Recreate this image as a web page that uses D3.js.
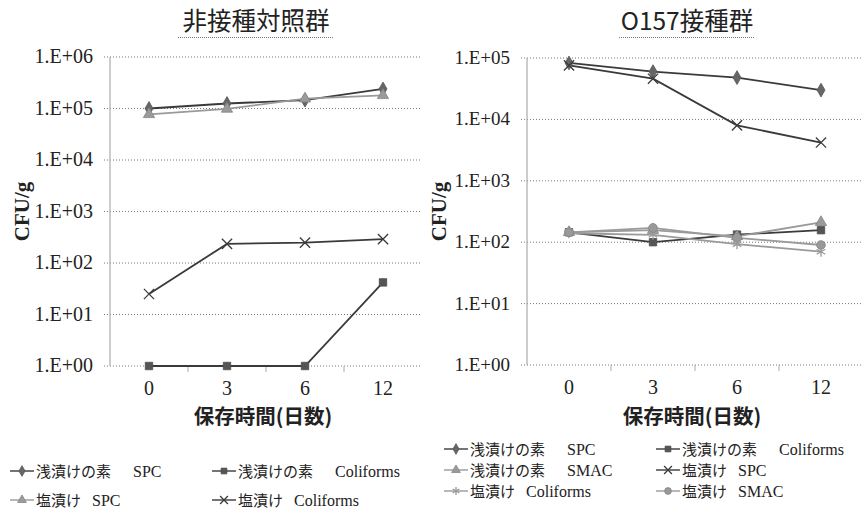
<!DOCTYPE html>
<html><head><meta charset="utf-8">
<script src="https://cdn.jsdelivr.net/npm/d3@7"></script>
<style>body{margin:0;background:#fff}</style>
</head><body><div id="chart"></div>
<script>
// ---- data ----
const days = ["0", "3", "6", "12"];
const leftTicks = [1, 1e1, 1e2, 1e3, 1e4, 1e5, 1e6];
const rightTicks = [1, 1e1, 1e2, 1e3, 1e4, 1e5];
const tickLabels = ["1.E+00", "1.E+01", "1.E+02", "1.E+03", "1.E+04", "1.E+05", "1.E+06"];

const leftAsaSPC = [1.0e5, 1.25e5, 1.45e5, 2.4e5];
const leftAsaColi = [1, 1, 1, 42];
const leftShioSPC = [7.7e4, 9.8e4, 1.55e5, 1.8e5];
const leftShioColi = [25, 235, 248, 290];

const rightAsaSPC = [8.3e4, 6.0e4, 4.8e4, 3.0e4];
const rightAsaColi = [145, 100, 133, 157];
const rightAsaSMAC = [145, 157, 124, 211];
const rightShioSPC = [7.6e4, 4.6e4, 8.0e3, 4.2e3];
const rightShioColi = [140, 132, 93, 70];
const rightShioSMAC = [145, 171, 118, 90];

const JP = "'Noto Sans CJK JP', sans-serif";
const SERIF = "'Liberation Serif', 'DejaVu Serif', serif";
const DARK = "#3a3a3a", GRAY = "#9a9a9a";

const svg = d3.select("#chart").append("svg")
    .attr("width", 862).attr("height", 522);

// marker drawing
function marker(g, type, color, x, y, scale = 1) {
    const sym = {
        diamond: [d3.symbolDiamond, 55, true],
        square: [d3.symbolSquare, 55, true],
        triangle: [d3.symbolTriangle, 55, true],
        circle: [d3.symbolCircle, 60, true],
        times: [d3.symbolTimes, 70, false],
        asterisk: [d3.symbolAsterisk, 70, false]
    }[type];
    if (!sym) return;
    const p = g.append("path")
        .attr("d", d3.symbol().type(sym[0]).size(sym[1] * scale)())
        .attr("transform", `translate(${x},${y})`);
    if (sym[2]) p.attr("fill", color).attr("stroke", d3.color(color).darker(0.4)).attr("stroke-width", 0.8);
    else p.attr("fill", "none").attr("stroke", color).attr("stroke-width", 1.3);
}

function drawPanel(opt) {
    const g = svg.append("g");
    const x = d3.scalePoint().domain(days).range([opt.left, opt.right]).padding(0.5);
    const y = d3.scaleLog().domain([1, opt.ticks[opt.ticks.length - 1]]).range([opt.bottom, opt.top]);

    // title + dotted underline
    g.append("text").attr("x", opt.titleX).attr("y", 30)
        .attr("text-anchor", "middle").attr("font-family", JP).attr("font-size", 24.5)
        .attr("fill", "#222").text(opt.title);
    g.append("line").attr("x1", opt.titleX - opt.ulHalf).attr("x2", opt.titleX + opt.ulHalf)
        .attr("y1", 37.5).attr("y2", 37.5)
        .attr("stroke", "#777").attr("stroke-width", 1.2).attr("stroke-dasharray", "1,1");

    // gridlines
    g.selectAll(".grid").data(opt.ticks).join("line")
        .attr("x1", opt.left - 6).attr("x2", opt.right)
        .attr("y1", d => y(d)).attr("y2", d => y(d))
        .attr("stroke", "#777").attr("stroke-width", 1).attr("stroke-dasharray", "1,2");

    // y axis line
    g.append("line").attr("x1", opt.left).attr("x2", opt.left)
        .attr("y1", opt.top).attr("y2", opt.bottom)
        .attr("stroke", "#aaa").attr("stroke-width", 1.2);

    // y tick labels
    g.selectAll(".yl").data(opt.ticks).join("text")
        .attr("x", opt.left - 17).attr("y", d => y(d) + 6)
        .attr("text-anchor", "end").attr("font-family", SERIF).attr("font-size", opt.tickSize)
        .attr("fill", "#222")
        .text((d, i) => tickLabels[i]);

    // category tick marks
    const step = x.step();
    g.selectAll(".xt").data(d3.range(1, days.length)).join("line")
        .attr("x1", d => opt.left + d * step).attr("x2", d => opt.left + d * step)
        .attr("y1", opt.bottom).attr("y2", opt.bottom + 6)
        .attr("stroke", "#aaa");

    // x tick labels
    g.selectAll(".xl").data(days).join("text")
        .attr("x", d => x(d)).attr("y", opt.bottom + 29)
        .attr("text-anchor", "middle").attr("font-family", SERIF).attr("font-size", 20)
        .attr("fill", "#222").text(d => d);

    // axis titles
    g.append("text")
        .attr("transform", `translate(${opt.yTitleX},${(opt.top + opt.bottom) / 2}) rotate(-90)`)
        .attr("text-anchor", "middle").attr("font-family", SERIF).attr("font-weight", "bold")
        .attr("font-size", 21).attr("fill", "#222").text("CFU/g");
    g.append("text").attr("x", (opt.left + opt.right) / 2 - 3).attr("y", 424)
        .attr("text-anchor", "middle").attr("font-family", JP).attr("font-weight", "bold")
        .attr("font-size", 20.5).attr("fill", "#222").text("保存時間(日数)");

    // series
    const line = d3.line().x((d, i) => x(days[i])).y(d => y(d));
    opt.series.forEach(s => {
        g.append("path").attr("d", line(s.values))
            .attr("fill", "none").attr("stroke", s.color).attr("stroke-width", 1.8);
    });
    opt.series.forEach(s => {
        s.values.forEach((v, i) => marker(g, s.marker, s.markerColor || s.color, x(days[i]), y(v)));
    });

    // legend
    opt.series.forEach((s, i) => {
        const lx = opt.legendX[i % 2], ly = opt.legendY[Math.floor(i / 2)];
        const lg = g.append("g").attr("transform", `translate(${lx},${ly})`);
        lg.append("line").attr("x1", 0).attr("x2", 24).attr("y1", 0).attr("y2", 0)
            .attr("stroke", s.color).attr("stroke-width", 1.4);
        marker(lg, s.marker, s.markerColor || s.color, 12, 0, 0.6);
        const t = lg.append("text").attr("x", 26).attr("y", 5.5)
            .attr("font-family", JP).attr("font-size", 15).attr("fill", "#222");
        t.append("tspan").text(s.jp);
        t.append("tspan").attr("dx", s.jp.length > 3 ? 22 : 11)
            .attr("font-family", SERIF).attr("font-size", 16).text(s.en);
    });
}

drawPanel({
    title: "非接種対照群", titleX: 256, ulHalf: 78,
    left: 110, right: 422, top: 57, bottom: 366,
    ticks: leftTicks, tickSize: 20, yTitleX: 29,
    legendX: [10, 212], legendY: [471, 500],
    series: [
        { jp: "浅漬けの素", en: "SPC", values: leftAsaSPC, color: DARK, markerColor: "#666", marker: "diamond" },
        { jp: "浅漬けの素", en: "Coliforms", values: leftAsaColi, color: DARK, markerColor: "#555", marker: "square" },
        { jp: "塩漬け", en: "SPC", values: leftShioSPC, color: GRAY, marker: "triangle" },
        { jp: "塩漬け", en: "Coliforms", values: leftShioColi, color: DARK, marker: "times" }
    ]
});

drawPanel({
    title: "O157接種群", titleX: 687, ulHalf: 68,
    left: 527, right: 863, top: 58, bottom: 365,
    ticks: rightTicks, tickSize: 19, yTitleX: 446,
    legendX: [444, 656], legendY: [449, 470, 491],
    series: [
        { jp: "浅漬けの素", en: "SPC", values: rightAsaSPC, color: DARK, markerColor: "#666", marker: "diamond" },
        { jp: "浅漬けの素", en: "Coliforms", values: rightAsaColi, color: DARK, markerColor: "#555", marker: "square" },
        { jp: "浅漬けの素", en: "SMAC", values: rightAsaSMAC, color: GRAY, marker: "triangle" },
        { jp: "塩漬け", en: "SPC", values: rightShioSPC, color: DARK, marker: "times" },
        { jp: "塩漬け", en: "Coliforms", values: rightShioColi, color: GRAY, marker: "asterisk" },
        { jp: "塩漬け", en: "SMAC", values: rightShioSMAC, color: GRAY, markerColor: "#999", marker: "circle" }
    ]
});
</script>
</body></html>
